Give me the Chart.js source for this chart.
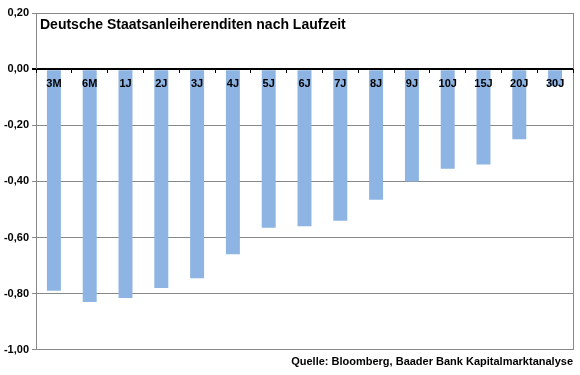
<!DOCTYPE html>
<html>
<head>
<meta charset="utf-8">
<script src="https://cdn.jsdelivr.net/npm/chart.js@4"></script>
<style>
  html, body { margin: 0; padding: 0; background: #fff; }
  #wrap { position: relative; width: 580px; height: 375px; }
  #title {
    position: absolute; left: 40px; top: 16px;
    font: bold 14px "Liberation Sans", Arial, sans-serif; color: #000;
    line-height: 16px; white-space: nowrap;
  }
</style>
</head>
<body>
<div id="wrap">
  <canvas id="dataChart" width="580" height="375"></canvas>
  <div id="title">Deutsche Staatsanleiherenditen nach Laufzeit</div>
</div>
<script>
// Laufzeiten und Renditen (%)
const maturities = ['3M', '6M', '1J', '2J', '3J', '4J', '5J', '6J', '7J', '8J', '9J', '10J', '15J', '20J', '30J'];
const yields = [-0.79, -0.83, -0.815, -0.78, -0.745, -0.66, -0.565, -0.56, -0.54, -0.465, -0.40, -0.355, -0.34, -0.25, -0.06];
const yTicks = [0.2, 0, -0.2, -0.4, -0.6, -0.8, -1.0];
const source = 'Quelle: Bloomberg, Baader Bank Kapitalmarktanalyse';

const font = { family: '"Liberation Sans", Arial, sans-serif', size: 11, weight: 'bold' };

const ctx = document.getElementById('dataChart').getContext('2d');
const chart = new Chart(ctx, {
    type: 'bar',
    data: {
        labels: maturities,
        datasets: [{
            label: 'Rendite',
            data: yields,
            backgroundColor: 'rgb(141, 180, 226)',
            categoryPercentage: 1,
            barPercentage: 0.39
        }]
    },
    options: {
        responsive: false,
        animation: false,
        layout: { padding: { top: 13, right: 7, left: 0, bottom: 0 } },
        plugins: {
            legend: { display: false },
            tooltip: { enabled: false },
            title: {
                display: true,
                text: source,
                position: 'bottom',
                align: 'end',
                color: '#000',
                font: font,
                padding: { top: 6, bottom: 6 }
            }
        },
        scales: {
            x: {
                position: { y: 0 },
                grid: { drawOnChartArea: false, drawTicks: true, tickLength: 4, color: '#000', lineWidth: 1, z: 1 },
                border: { display: false },
                ticks: { color: '#000', font: font, padding: 4, maxRotation: 0, autoSkip: false, z: 1 }
            },
            y: {
                min: -1,
                max: 0.2,
                afterBuildTicks: function(scale) {
                    scale.ticks = yTicks.map(v => ({ value: v }));
                },
                afterFit: function(scale) { scale.width = 36; },
                grid: {
                    color: c => c.tick && c.tick.value === 0 ? '#000' : '#888',
                    lineWidth: c => c.tick && c.tick.value === 0 ? 2 : 1,
                    tickLength: 4
                },
                border: { color: '#888', width: 1 },
                ticks: {
                    color: '#000',
                    font: font,
                    padding: 3,
                    callback: v => v.toFixed(2).replace('.', ',')
                }
            },
            yRight: {
                position: 'right',
                min: -1,
                max: 0.2,
                afterFit: function(scale) { scale.width = 0; },
                grid: { drawOnChartArea: false, drawTicks: false },
                border: { color: '#888', width: 1 },
                ticks: { display: false }
            }
        }
    }
});
</script>
</body>
</html>
